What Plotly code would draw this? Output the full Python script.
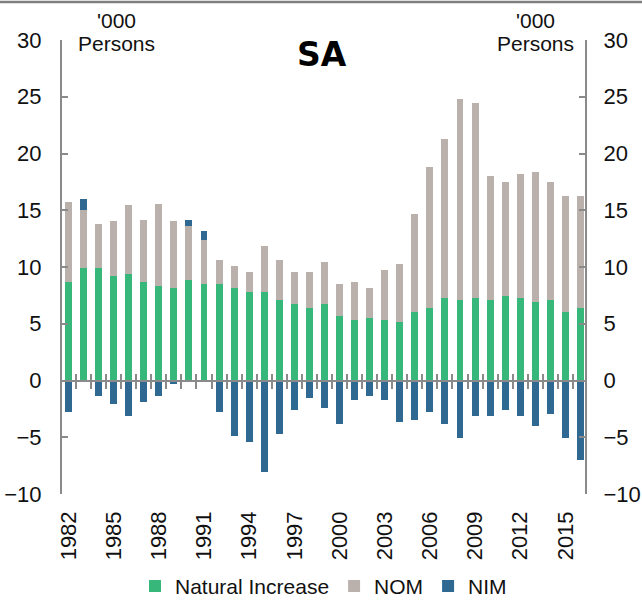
import plotly.graph_objects as go

years = list(range(1982, 2017))
natural_increase = [8.68, 9.91, 9.91, 9.21, 9.38, 8.68, 8.32, 8.15, 8.85, 8.50,
                    8.50, 8.15, 7.79, 7.79, 7.12, 6.77, 6.38, 6.77, 5.71, 5.36,
                    5.53, 5.36, 5.18, 6.06, 6.41, 7.30, 7.12, 7.30, 7.12, 7.47,
                    7.30, 6.94, 7.12, 6.06, 6.41]
nom = [7.09, 5.15, 3.92, 4.82, 6.04, 5.50, 7.27, 5.88, 4.80, 3.92,
       2.15, 1.97, 1.77, 4.10, 3.53, 2.79, 3.18, 3.67, 2.79, 3.32,
       2.62, 4.38, 5.09, 8.65, 12.36, 13.94, 17.65, 17.12, 10.94, 10.03,
       10.91, 11.45, 10.38, 10.21, 9.86]
nim = [-2.79, 0.89, -1.38, -2.09, -3.15, -1.88, -1.38, -0.29, 0.53, 0.73,
       -2.79, -4.91, -5.44, -8.09, -4.74, -2.62, -1.56, -2.44, -3.85, -1.74,
       -1.38, -1.74, -3.68, -3.50, -2.79, -3.85, -5.09, -3.15, -3.15, -2.62,
       -3.15, -4.03, -2.97, -5.09, -7.03]
x_tick_labels = list(range(1982, 2016, 3))
y_ticks = [-10, -5, 0, 5, 10, 15, 20, 25, 30]

GREEN = "#37B77A"
GREY = "#BBB1AC"
BLUE = "#2F6891"
AXIS = "#8A8A8A"
FONT = "Liberation Sans, Arial, sans-serif"

W, H = 642, 602
ML, MR, MT, MB = 62, 57, 40, 108
PW, PH = W - ML - MR, H - MT - MB
XR = [1981.57, 2016.3]
YR = [-10, 30]
zero_frac = (0 - YR[0]) / (YR[1] - YR[0])

fig = go.Figure()
bw = 0.46
fig.add_trace(go.Bar(x=years, y=natural_increase, name="Natural Increase",
                     marker=dict(color=GREEN, line=dict(width=0)), width=bw))
fig.add_trace(go.Bar(x=years, y=nom, name="NOM",
                     marker=dict(color=GREY, line=dict(width=0)), width=bw))
fig.add_trace(go.Bar(x=years, y=nim, name="NIM",
                     marker=dict(color=BLUE, line=dict(width=0)), width=bw))
# helper empty traces so the extra axes are drawn
for xa, ya in [("x2", "y"), ("x3", "y"), ("x", "y2")]:
    fig.add_trace(go.Scatter(x=[], y=[], xaxis=xa, yaxis=ya, showlegend=False,
                             hoverinfo="skip"))

tickfont = dict(family=FONT, size=22, color="#111111")

fig.update_layout(
    width=W, height=H,
    margin=dict(l=ML, r=MR, t=MT, b=MB, pad=0, autoexpand=False),
    paper_bgcolor="white", plot_bgcolor="white",
    barmode="relative", bargap=0,
    showlegend=True,
    legend=dict(orientation="h", x=0.5, xanchor="center", y=-0.158, yanchor="top",
                font=dict(family=FONT, size=21, color="#111111"),
                itemsizing="constant", tracegroupgap=0, itemwidth=30),
    xaxis=dict(range=XR, type="linear", anchor="free", position=zero_frac,
               showline=True, linecolor=AXIS, linewidth=2, automargin=False,
               ticks="outside", ticklen=7, tickwidth=2, tickcolor=AXIS,
               tickmode="linear", tick0=1981.5, dtick=1,
               showticklabels=False, showgrid=False, zeroline=False),
    xaxis2=dict(range=XR, type="linear", overlaying="x", anchor="free", position=zero_frac,
                showline=False, ticks="inside", ticklen=7, tickwidth=2, tickcolor=AXIS,
                tickmode="linear", tick0=1981.5, dtick=1, automargin=False,
                showticklabels=False, showgrid=False, zeroline=False),
    xaxis3=dict(range=XR, type="linear", overlaying="x", anchor="y", side="bottom",
                showline=False, ticks="", tickmode="array", tickvals=x_tick_labels,
                ticktext=[str(v) for v in x_tick_labels], tickangle=-90,
                tickfont=tickfont, ticklabelstandoff=12, automargin=False,
                showgrid=False, zeroline=False),
    yaxis=dict(range=YR, tickmode="array", tickvals=y_ticks,
               showline=True, linecolor=AXIS, linewidth=2, automargin=False,
               ticks="inside", ticklen=6, tickwidth=2, tickcolor=AXIS,
               tickfont=tickfont, ticklabelstandoff=14,
               showgrid=False, zeroline=False),
    yaxis2=dict(range=YR, overlaying="y", side="right", anchor="x", tickmode="array",
                tickvals=y_ticks, showline=True, linecolor=AXIS, linewidth=2,
                ticks="inside", ticklen=6, tickwidth=2, tickcolor=AXIS,
                tickfont=tickfont, ticklabelstandoff=12, automargin=False,
                showgrid=False, zeroline=False),
)

def px_x(p):
    return (p - ML) / PW

def px_y(p):
    return 1 - (p - MT) / PH

ann_font = dict(family=FONT, size=21, color="#111111")
for cx in (116, 535):
    fig.add_annotation(text="'000", x=px_x(cx), y=px_y(20), xref="paper", yref="paper",
                       showarrow=False, font=ann_font, xanchor="center", yanchor="middle")
    fig.add_annotation(text="Persons", x=px_x(cx), y=px_y(44), xref="paper", yref="paper",
                       showarrow=False, font=ann_font, xanchor="center", yanchor="middle")

fig.add_annotation(text="<b>SA</b>", x=px_x(321.5), y=px_y(54), xref="paper", yref="paper",
                   showarrow=False, xanchor="center", yanchor="middle",
                   font=dict(family="DejaVu Sans, sans-serif", size=33, color="black"))

fig.add_shape(type="line", xref="paper", yref="paper",
              x0=px_x(0), x1=px_x(W), y0=px_y(2), y1=px_y(2),
              line=dict(color="#808080", width=2.5))

fig.write_html("out.html", config={"displayModeBar": False},
               post_script="document.body.style.margin='0';document.body.style.overflow='hidden';")
